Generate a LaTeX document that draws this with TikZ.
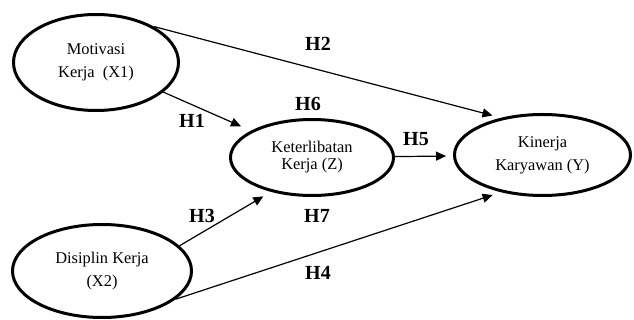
\documentclass[tikz,border=0pt]{standalone}
\usepackage{fontspec}
\setmainfont{Liberation Serif}
\usetikzlibrary{arrows.meta,positioning,shapes.geometric}

\begin{document}
\begin{tikzpicture}[
    on grid,
    construct/.style={draw, ellipse, line width=1.5pt, align=center, inner sep=0pt, font=\fontsize{8.2}{11.5}\selectfont},
    hyp/.style={font=\fontsize{10}{12}\selectfont\bfseries},
    link/.style={-{Triangle[length=5pt, width=4.5pt]}, line width=0.6pt, shorten >=4.5pt}
]
\useasboundingbox (-48pt,31.25pt) rectangle (269pt,-128.75pt);
\node[construct, minimum width=82.5pt, minimum height=48pt] (mot) {Motivasi\\Kerja~ (X1)};
\node[construct, minimum width=81.5pt, minimum height=38pt, font=\fontsize{8.2}{8.5}\selectfont, below right=47.5pt and 108pt of mot] (ket) {Keterlibatan\\Kerja (Z)};
\node[construct, minimum width=88pt, minimum height=40.5pt, above right=1.25pt and 115.25pt of ket] (kin) {Kinerja\\Karyawan (Y)};
\node[construct, minimum width=89.5pt, minimum height=46.5pt, below right=104.25pt and 3pt of mot] (dis) {Disiplin Kerja\\(X2)};
\node[hyp, below right=29.25pt and 48pt of mot] (h1) {H1};
\node[hyp, above right=9.25pt and 111pt of mot] (h2) {H2};
\node[hyp, above right=27.5pt and 50pt of dis] (h3) {H3};
\node[hyp, below right=1pt and 108pt of dis] (h4) {H4};
\node[hyp, above right=9.25pt and 52pt of ket] (h5) {H5};
\node[hyp, above left=26.75pt and 2pt of ket] (h6) {H6};
\node[hyp, below right=29.25pt and 2.5pt of ket] (h7) {H7};
\draw[link, shorten >=5.5pt] (mot) -- (ket);
\draw[link] (mot.32) -- (kin.138);
\draw[link] (dis.18) -- (ket.220);
\draw[link] (dis.-21) -- (kin.-138);
\draw[link, shorten >=3.5pt] (ket) -- (kin);
\end{tikzpicture}
\end{document}
